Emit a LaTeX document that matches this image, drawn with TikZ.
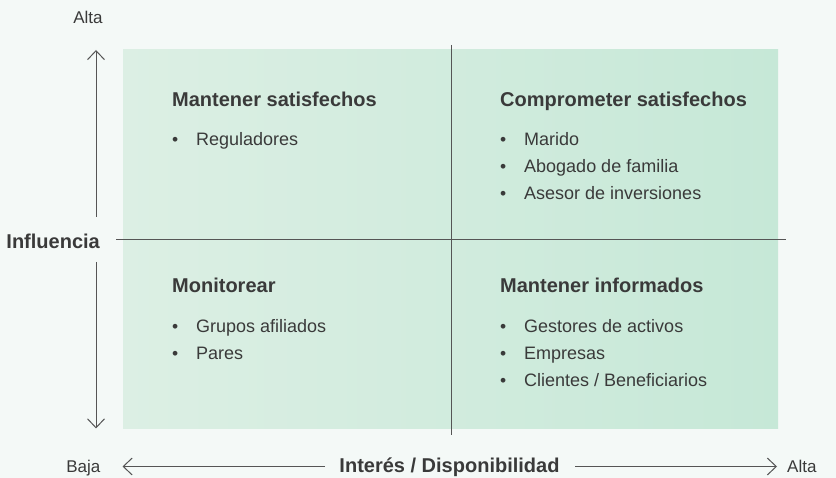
\documentclass[tikz,border=0pt]{standalone}
\usepackage{fontspec}
\setmainfont{Liberation Sans}
\usetikzlibrary{arrows.meta}
\definecolor{bgc}{HTML}{F4F9F7}
\definecolor{gA}{HTML}{DCEFE4}
\definecolor{gB}{HTML}{C6E8D7}
\definecolor{txt}{HTML}{3A3A3A}
\definecolor{ln}{HTML}{555555}
\tikzset{
  ttl/.style={anchor=base west, inner sep=0pt, text=txt, font=\fontsize{20}{23}\selectfont\bfseries},
  itm/.style={anchor=base west, inner sep=0pt, text=txt, font=\fontsize{18}{21}\selectfont},
  bul/.style={anchor=base west, inner sep=0pt, text=txt, font=\fontsize{17.5}{20}\selectfont},
  axlbl/.style={anchor=base, inner sep=0pt, text=txt, font=\fontsize{17}{20}\selectfont},
  axttl/.style={anchor=base, inner sep=0pt, text=txt, font=\fontsize{20}{24}\selectfont\bfseries},
  axarrow/.style={draw=ln, line width=1pt, -{Straight Barb[length=9pt,width=17pt,line width=1pt]}},
  divline/.style={draw=ln, line width=1pt}
}
\begin{document}
\begin{tikzpicture}[x=1pt,y=-1pt]
\fill[bgc] (0,0) rectangle (836,478);
\useasboundingbox (0,0) rectangle (836,478);
\shade[left color=gA, right color=gB] (123,50) rectangle (778,429);
% dividers
\coordinate (vt) at (451,45);
\coordinate (vb) at (451,435);
\coordinate (hl) at (116,240);
\coordinate (hr) at (786,240);
\draw[divline] (vt) -- (vb);
\draw[divline] (hl) -- (hr);
% vertical axis
\node[axlbl] (altaV) at (88,23.5) {Alta};
\node[axttl, anchor=base east] (infl) at (100,248.5) {Influencia};
\coordinate (vUpS) at (96,217);
\coordinate (vUpE) at (96,50);
\coordinate (vDnS) at (96,262);
\coordinate (vDnE) at (96,428.5);
\draw[axarrow] (vUpS) -- (vUpE);
\draw[axarrow] (vDnS) -- (vDnE);
% horizontal axis
\node[axlbl, anchor=base east] (baja) at (100.5,472) {Baja};
\node[axttl] (inter) at (449.5,472) {Interés / Disponibilidad};
\node[axlbl, anchor=base west] (altaH) at (787,472) {Alta};
\coordinate (hLS) at (325,466.5);
\coordinate (hLE) at (122.5,466.5);
\coordinate (hRS) at (575,466.5);
\coordinate (hRE) at (777,466.5);
\draw[axarrow] (hLS) -- (hLE);
\draw[axarrow] (hRS) -- (hRE);
% quadrant: top-left
\node[ttl] (q1) at (172,107) {Mantener satisfechos};
\node[bul] (q1b1) at (172,146) {•};
\node[itm] (q1i1) at (196,146) {Reguladores};
% quadrant: top-right
\node[ttl] (q2) at (500,107) {Comprometer satisfechos};
\node[bul] (q2b1) at (500,146) {•};
\node[itm] (q2i1) at (524,146) {Marido};
\node[bul] (q2b2) at (500,173) {•};
\node[itm] (q2i2) at (524,173) {Abogado de familia};
\node[bul] (q2b3) at (500,200) {•};
\node[itm] (q2i3) at (524,200) {Asesor de inversiones};
% quadrant: bottom-left
\node[ttl] (q3) at (172,293) {Monitorear};
\node[bul] (q3b1) at (172,333) {•};
\node[itm] (q3i1) at (196,333) {Grupos afiliados};
\node[bul] (q3b2) at (172,360) {•};
\node[itm] (q3i2) at (196,360) {Pares};
% quadrant: bottom-right
\node[ttl] (q4) at (500,293) {Mantener informados};
\node[bul] (q4b1) at (500,333) {•};
\node[itm] (q4i1) at (524,333) {Gestores de activos};
\node[bul] (q4b2) at (500,360) {•};
\node[itm] (q4i2) at (524,360) {Empresas};
\node[bul] (q4b3) at (500,387) {•};
\node[itm] (q4i3) at (524,387) {Clientes / Beneficiarios};
\end{tikzpicture}
\end{document}
